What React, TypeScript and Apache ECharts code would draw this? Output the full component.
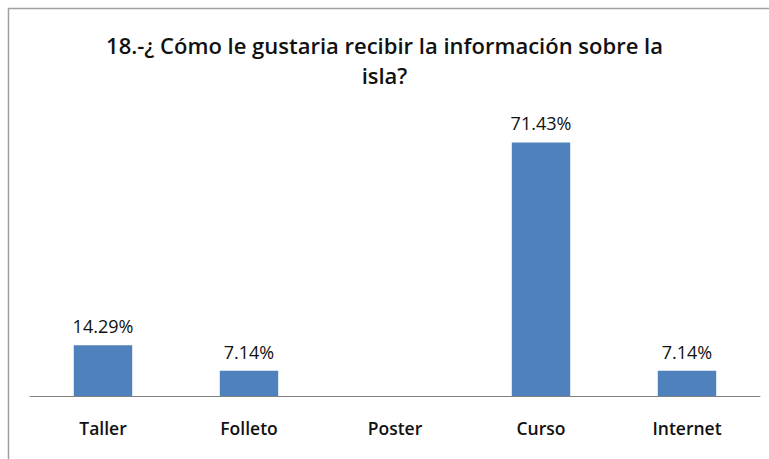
import React, { useEffect, useRef } from "react";
import * as echarts from "echarts";

const categories = ["Taller", "Folleto", "Poster", "Curso", "Internet"];
const values = [14.29, 7.14, 0, 71.43, 7.14];
const titleText = "18.-¿ Cómo le gustaria recibir la información sobre la\nisla?";

export default function App() {
  const ref = useRef<HTMLDivElement>(null);
  useEffect(() => {
    document.body.style.margin = "0";
    const chart = echarts.init(ref.current!, null, { renderer: "svg" });
    chart.setOption({
      animation: false,
      backgroundColor: "#ffffff",
      title: {
        text: titleText,
        left: "center",
        top: 25,
        textStyle: {
          fontFamily: "Open Sans",
          fontWeight: 600,
          fontSize: 22,
          color: "#111",
          lineHeight: 30,
        },
      },
      graphic: [
        {
          type: "rect",
          shape: { x: 8.5, y: 8.5, width: 780, height: 480 },
          style: { fill: "none", stroke: "#a0a0a0", lineWidth: 1.5 },
          silent: true,
        },
      ],
      grid: { left: 30, right: 9, top: 112, bottom: 63 },
      xAxis: {
        type: "category",
        data: categories,
        axisLine: { lineStyle: { color: "#808080", width: 1 } },
        axisTick: { show: false },
        axisLabel: {
          fontFamily: "Open Sans",
          fontWeight: 600,
          fontSize: 17.5,
          color: "#111",
          margin: 23,
        },
      },
      yAxis: {
        type: "value",
        min: 0,
        max: 80,
        show: false,
        splitLine: { show: false },
      },
      series: [
        {
          type: "bar",
          data: values,
          barWidth: "40%",
          itemStyle: { color: "#4f81bd" },
          label: {
            show: true,
            position: "top",
            distance: 10,
            formatter: (p: any) => (p.value > 0 ? p.value.toFixed(2) + "%" : ""),
            fontFamily: "Open Sans",
            fontSize: 18,
            color: "#111",
          },
        },
      ],
    });
    return () => chart.dispose();
  }, []);
  return <div ref={ref} style={{ width: 769, height: 459 }} />;
}
